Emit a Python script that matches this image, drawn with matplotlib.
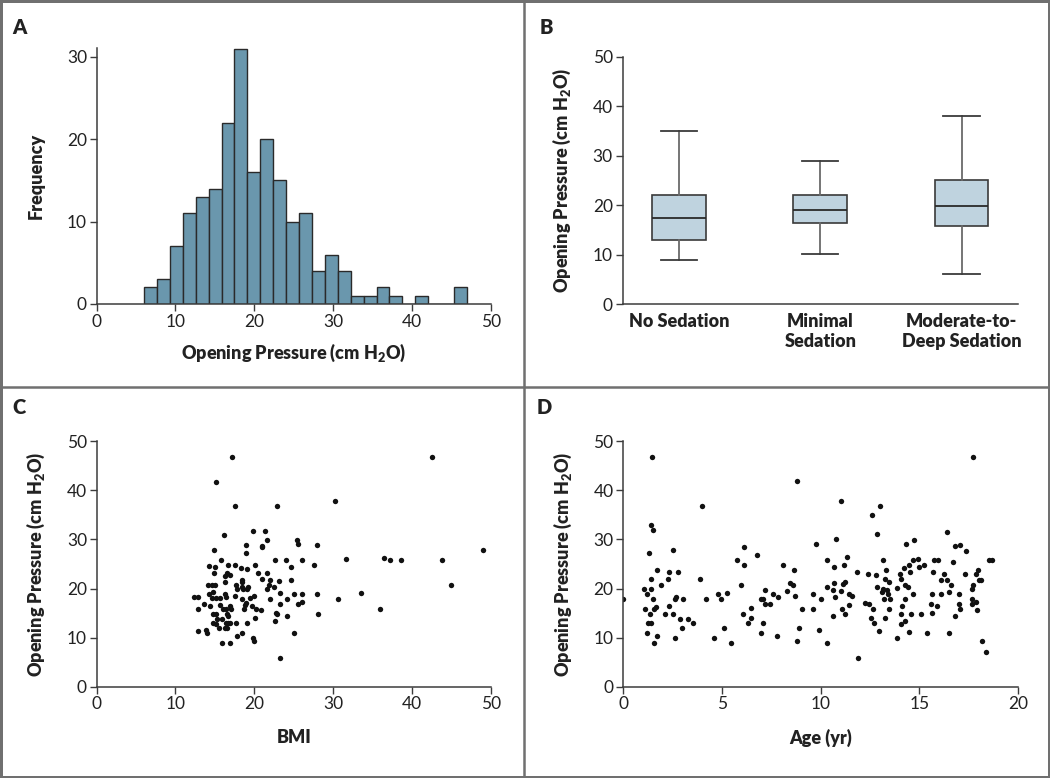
import numpy as np
import matplotlib
matplotlib.use("Agg")
import matplotlib.pyplot as plt
from matplotlib.patches import Rectangle
from matplotlib.lines import Line2D

plt.rcParams['font.family'] = ['Lato', 'DejaVu Sans']
plt.rcParams['mathtext.fontset'] = 'custom'
plt.rcParams['mathtext.rm'] = 'Lato:heavy'
plt.rcParams['mathtext.default'] = 'rm'

# A: histogram counts (bins start at 6, width ~1.64)
hist_start = 6.0
hist_width = 1.64
hist_counts = [2, 3, 7, 11, 13, 14, 22, 31, 16, 20, 15, 10, 11, 4, 6, 4, 1, 1, 2, 1, 0, 1, 0, 0, 2]

# B: box plot summaries
groups = ['No Sedation', 'Minimal\nSedation', 'Moderate-to-\nDeep Sedation']
whislo = [9.0, 10.2, 6.1]
q1 = [13.0, 16.4, 15.9]
med = [17.5, 19.1, 19.8]
q3 = [22.0, 22.0, 25.0]
whishi = [35.0, 28.9, 38.0]

# C: BMI vs opening pressure
bmi = [17.2, 15.2, 17.5, 22.9, 16.1, 19.8, 21.4, 21.6, 21.0, 21.0,
       25.4, 25.6, 28.0, 18.9, 19.0, 14.9, 22.6, 24.0, 26.1, 15.8,
       24.7, 27.6, 14.2, 15.0, 16.7, 17.6, 18.3, 19.1, 20.1, 14.9,
       16.5, 16.3, 16.9, 20.5, 21.6, 18.4, 18.5, 21.0, 22.0, 23.1,
       24.7, 16.3, 14.1, 14.6, 15.0, 17.7, 17.8, 18.4, 18.6, 19.1,
       19.2, 21.6, 21.9, 22.5, 23.3, 25.0, 26.1, 27.9, 12.3, 12.9,
       14.3, 14.7, 17.5, 18.5, 19.4, 19.9, 19.0, 18.8, 22.0, 24.2,
       25.5, 26.1, 23.2, 13.6, 14.4, 12.9, 15.6, 16.0, 16.4, 16.9,
       17.1, 18.7, 19.7, 20.2, 20.8, 22.7, 22.9, 14.7, 15.2, 16.5,
       16.7, 15.3, 15.9, 20.1, 24.1, 22.6, 14.7, 15.2, 16.4, 16.7,
       16.9, 17.7, 19.1, 15.5, 16.3, 16.5, 12.9, 13.9, 14.0, 17.8,
       18.4, 25.1, 19.8, 19.9, 15.9, 16.9, 23.2, 14.6, 15.2, 15.7,
       16.3, 16.4, 42.6, 30.3, 31.7, 36.5, 37.2, 38.6, 43.8, 49.0,
       45.0, 33.6, 30.6, 36.0, 28.1]
op_bmi = [46.8, 41.8, 36.8, 36.8, 30.9, 31.8, 31.8, 29.9, 28.7, 28.4,
          29.9, 29.0, 28.8, 28.8, 27.3, 27.8, 25.8, 25.8, 25.8, 25.8,
          24.3, 24.8, 24.6, 24.3, 24.9, 24.9, 24.1, 23.9, 24.8, 23.2,
          23.1, 22.6, 22.8, 23.2, 23.2, 21.8, 21.3, 22.0, 21.8, 21.6,
          21.8, 21.3, 20.8, 20.8, 20.8, 20.8, 19.9, 20.3, 19.9, 19.9,
          20.3, 19.9, 20.8, 20.3, 19.1, 18.9, 18.9, 18.9, 18.3, 18.3,
          18.9, 19.2, 18.4, 17.9, 18.0, 18.4, 17.0, 16.7, 17.8, 17.8,
          16.8, 17.3, 16.9, 16.8, 16.4, 15.9, 16.6, 15.9, 15.9, 16.4,
          15.9, 15.8, 16.4, 15.9, 15.6, 15.0, 14.9, 14.9, 14.8, 14.9,
          14.5, 13.8, 13.8, 13.9, 14.4, 13.4, 12.9, 12.7, 12.9, 12.9,
          12.9, 12.9, 12.9, 11.9, 11.9, 11.9, 11.4, 11.5, 10.9, 10.4,
          10.9, 10.9, 9.9, 9.3, 8.9, 8.9, 5.9, 18.0, 18.0, 18.0,
          18.8, 18.2, 46.8, 37.8, 26.0, 26.3, 25.8, 25.8, 25.8, 27.9,
          20.8, 19.1, 17.9, 15.8, 14.9]

# D: age vs opening pressure
age = [0.0, 1.45, 1.42, 1.52, 1.28, 1.03, 1.22, 1.39, 1.39, 1.49,
       1.11, 1.35, 1.57, 1.66, 1.25, 1.39, 1.18, 1.69, 1.54, 1.72,
       1.89, 2.09, 2.25, 2.33, 2.33, 2.5, 2.53, 2.6, 2.62, 2.69,
       2.77, 2.87, 3.0, 2.97, 3.28, 3.51, 3.99, 3.89, 4.19, 4.59,
       4.8, 4.97, 5.1, 5.24, 5.44, 5.74, 5.98, 6.05, 6.13, 6.13,
       6.32, 6.47, 6.47, 6.77, 7.0, 7.08, 7.16, 7.06, 7.0, 7.16,
       7.43, 7.57, 7.8, 7.85, 8.07, 8.31, 8.45, 8.62, 8.65, 8.7,
       8.82, 8.82, 8.89, 9.06, 11.03, 9.75, 10.76, 10.34, 9.63, 10.0,
       9.6, 9.93, 10.31, 10.70, 11.17, 11.34, 10.31, 10.61, 10.68, 11.03,
       11.12, 11.25, 10.75, 11.41, 11.59, 11.42, 11.07, 11.24, 10.61, 11.82,
       11.88, 12.25, 12.45, 12.40, 12.62, 12.84, 12.99, 12.79, 12.64, 12.57,
       12.71, 12.96, 12.84, 13.16, 13.30, 13.26, 13.45, 13.14, 13.38, 13.11,
       13.42, 13.21, 13.52, 13.47, 13.25, 13.89, 14.02, 14.09, 14.26, 14.43,
       14.13, 14.09, 14.28, 14.06, 14.28, 13.89, 14.46, 14.33, 14.72, 14.23,
       14.46, 14.53, 14.70, 14.94, 14.99, 15.21, 14.70, 14.60, 15.1, 15.37,
       15.73, 15.96, 15.71, 15.65, 15.66, 15.58, 15.90, 16.07, 16.27, 16.40,
       16.09, 16.61, 16.52, 17.0, 16.71, 16.41, 16.81, 17.08, 17.37, 17.32,
       17.03, 17.08, 16.80, 16.52, 17.71, 17.66, 17.73, 17.66, 17.67, 17.89,
       17.96, 18.0, 18.13, 17.89, 17.91, 18.16, 18.40, 18.54, 18.69]
op_age = [17.8, 46.8, 32.9, 31.9, 27.3, 19.9, 18.8, 21.9, 19.9, 17.8,
          15.9, 14.9, 15.8, 16.3, 12.9, 12.9, 10.9, 10.3, 8.9, 23.8,
          20.8, 14.9, 21.9, 23.3, 16.4, 27.8, 14.9, 10.0, 17.9, 18.3,
          23.3, 13.8, 17.8, 11.9, 13.8, 12.9, 36.8, 21.9, 17.8, 9.9,
          18.9, 17.8, 11.9, 19.0, 8.9, 25.9, 20.8, 14.9, 28.4, 24.9,
          12.9, 14.0, 16.0, 26.8, 17.8, 17.8, 19.7, 12.9, 10.9, 16.8,
          16.8, 18.9, 10.3, 18.3, 24.8, 19.5, 21.2, 20.8, 23.8, 18.4,
          41.9, 9.4, 11.9, 15.9, 37.9, 29.0, 30.1, 25.9, 18.9, 17.9,
          15.9, 11.5, 8.9, 24.4, 24.7, 26.4, 20.4, 19.7, 21.1, 19.4,
          20.9, 21.4, 18.3, 18.9, 18.5, 16.7, 15.9, 14.9, 14.4, 23.4,
          5.9, 17.0, 16.9, 22.9, 34.9, 31.1, 36.8, 22.7, 15.9, 13.9,
          12.9, 11.4, 20.3, 25.9, 23.8, 21.9, 21.4, 20.0, 19.8, 19.2,
          18.9, 17.8, 17.9, 15.9, 13.9, 20.1, 22.9, 21.9, 20.8, 20.4,
          16.4, 14.9, 17.8, 12.7, 13.4, 10.0, 11.1, 29.0, 29.9, 24.1,
          24.8, 23.3, 25.9, 26.0, 24.4, 24.9, 18.9, 14.9, 14.9, 10.9,
          25.9, 25.9, 23.4, 18.9, 15.0, 16.8, 16.4, 21.8, 22.9, 21.8,
          18.9, 20.8, 19.2, 18.9, 25.4, 31.5, 28.6, 28.9, 27.7, 22.9,
          16.8, 15.9, 14.4, 10.9, 46.9, 20.0, 20.8, 17.8, 16.8, 22.9,
          23.8, 21.7, 21.7, 17.3, 15.7, 9.3, 7.0, 25.9, 25.9]

txt = '#222222'
spine_c = '#3c3c3c'
ylab = 'Opening Pressure (cm H$_2$O)'
lw_bold = 'heavy'


def style(ax):
    for s in ['top', 'right']:
        ax.spines[s].set_visible(False)
    for s in ['left', 'bottom']:
        ax.spines[s].set_color(spine_c)
        ax.spines[s].set_linewidth(1.1)
    ax.tick_params(direction='out', length=5, width=1.0, color=spine_c,
                   labelsize=12.5, labelcolor=txt, pad=2)


fig = plt.figure(figsize=(10.5, 7.78), dpi=100)

# A
axA = fig.add_axes([0.0921, 0.6093, 0.3752, 0.3294])
edges = hist_start + hist_width * np.arange(len(hist_counts) + 1)
centers = (edges[:-1] + edges[1:]) / 2
axA.hist(centers, bins=edges, weights=hist_counts, color='#6a97ad',
         edgecolor='#2a2a2a', linewidth=1.0)
axA.set_xlim(0, 50)
axA.set_ylim(0, 31.1)
axA.set_xticks([0, 10, 20, 30, 40, 50])
axA.set_yticks([0, 10, 20, 30])
style(axA)
axA.set_xlabel(ylab, fontsize=13, fontweight=lw_bold, color=txt, labelpad=9)
axA.set_ylabel('Frequency', fontsize=13, fontweight=lw_bold, color=txt, labelpad=16)

# B
axB = fig.add_axes([0.5930, 0.6089, 0.3765, 0.3182])
stats = []
for i in range(3):
    stats.append(dict(whislo=whislo[i], q1=q1[i], med=med[i], q3=q3[i],
                      whishi=whishi[i], fliers=[]))
axB.bxp(stats, positions=[1, 2, 3], widths=0.38, showfliers=False,
        patch_artist=True,
        boxprops=dict(facecolor='#bfd3df', edgecolor='#3a3a3a', linewidth=1.2),
        medianprops=dict(color='#2a2a2a', linewidth=1.3),
        whiskerprops=dict(color='#6a6a6a', linewidth=1.3),
        capprops=dict(color='#3a3a3a', linewidth=1.3),
        capwidths=0.255)
axB.set_xlim(0.6, 3.4)
axB.set_ylim(0, 50)
axB.set_yticks([0, 10, 20, 30, 40, 50])
style(axB)
axB.set_xticks([1, 2, 3])
axB.set_xticklabels(groups, fontsize=13, fontweight=lw_bold, linespacing=1.25)
axB.tick_params(axis='x', length=0, pad=6)
axB.set_ylabel(ylab, fontsize=13, fontweight=lw_bold, color=txt, labelpad=14)

# C
axC = fig.add_axes([0.0921, 0.1174, 0.3752, 0.3153])
axC.scatter(bmi, op_bmi, s=15, color='#111111', linewidths=0)
axC.set_xlim(0, 50)
axC.set_ylim(0, 50)
axC.set_xticks([0, 10, 20, 30, 40, 50])
axC.set_yticks([0, 10, 20, 30, 40, 50])
style(axC)
axC.set_xlabel('BMI', fontsize=13, fontweight=lw_bold, color=txt, labelpad=12)
axC.set_ylabel(ylab, fontsize=13, fontweight=lw_bold, color=txt, labelpad=14)

# D
axD = fig.add_axes([0.5936, 0.1174, 0.3760, 0.3153])
axD.scatter(age, op_age, s=15, color='#111111', linewidths=0)
axD.set_xlim(0, 20)
axD.set_ylim(0, 50)
axD.set_xticks([0, 5, 10, 15, 20])
axD.set_yticks([0, 10, 20, 30, 40, 50])
style(axD)
axD.set_xlabel('Age (yr)', fontsize=13, fontweight=lw_bold, color=txt, labelpad=12)
axD.set_ylabel(ylab, fontsize=13, fontweight=lw_bold, color=txt, labelpad=14)

# panel letters
for lab, x, y in [('A', 0.012, 0.965), ('B', 0.514, 0.965),
                  ('C', 0.012, 0.4756), ('D', 0.511, 0.4756)]:
    fig.text(x, y, lab, fontsize=14.5, fontweight=lw_bold, color=txt,
             ha='left', va='center')

# panel frames
frame_c = '#707070'
fig.add_artist(Rectangle((0, 0), 1, 1, transform=fig.transFigure, fill=False,
                         edgecolor=frame_c, linewidth=3.6))
fig.add_artist(Line2D([0.499, 0.499], [0, 1], transform=fig.transFigure,
                      color=frame_c, linewidth=1.8))
fig.add_artist(Line2D([0, 1], [0.502, 0.502], transform=fig.transFigure,
                      color=frame_c, linewidth=1.8))

fig.savefig('out.png', dpi=100)
